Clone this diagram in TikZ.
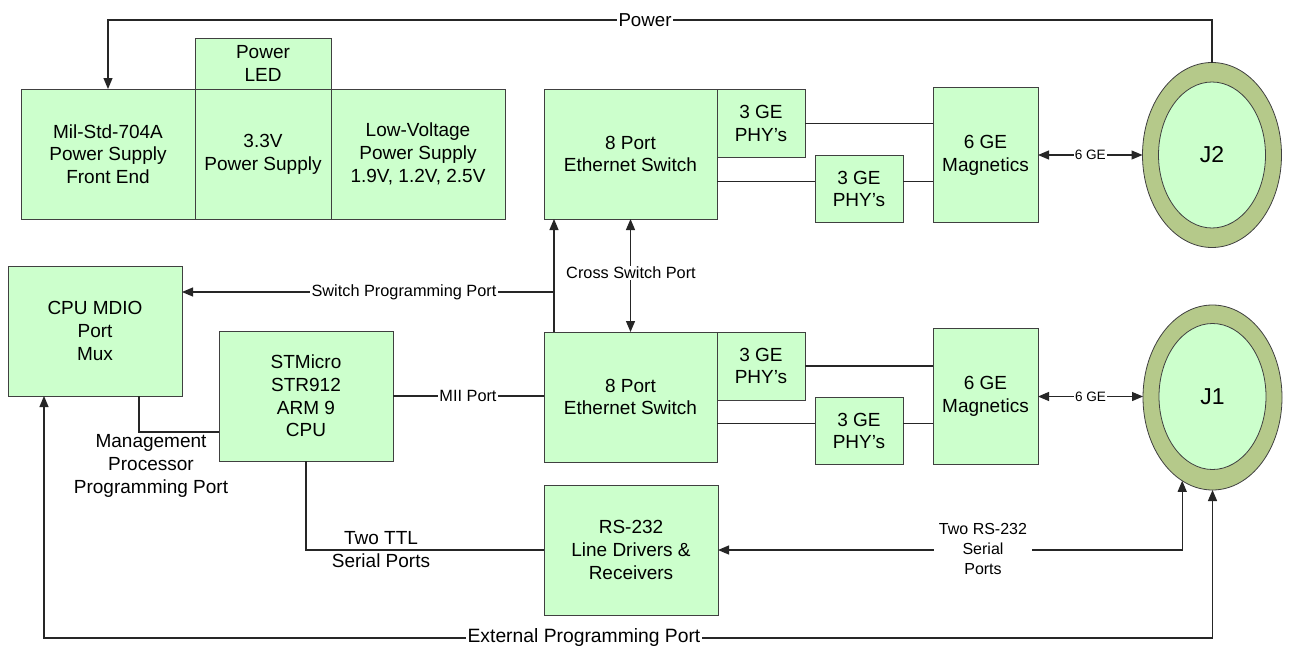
\documentclass[tikz,border=0pt]{standalone}
\usepackage{fontspec}
\setmainfont{Liberation Sans}
\usetikzlibrary{arrows.meta,shapes.geometric}
\definecolor{boxgreen}{HTML}{CCFFCC}
\definecolor{ringgreen}{HTML}{B5C98A}
\definecolor{edgegray}{HTML}{404040}
\begin{document}
\begin{tikzpicture}[x=1pt,y=-1pt,
  >={Triangle[length=11pt,width=9pt]},
  box/.style={draw=edgegray, fill=boxgreen, line width=0.8pt, inner sep=0pt, outer sep=0pt,
    align=center, font=\fontsize{19}{22.7}\selectfont},
  ring/.style={ellipse, draw=edgegray, fill=ringgreen, line width=0.8pt, inner sep=0pt, outer sep=0pt,
    minimum width=139pt, minimum height=185pt},
  core/.style={ellipse, draw=edgegray, fill=boxgreen, line width=0.8pt, inner sep=0pt, outer sep=0pt,
    minimum width=107pt, minimum height=146pt, font=\fontsize{23}{26}\selectfont},
  conn/.style={draw=black!85, line width=1.2pt},
  lbl/.style={fill=white, inner sep=1.5pt, align=center, font=\fontsize{16.3}{20}\selectfont},
  txt/.style={inner sep=0pt, align=center, font=\fontsize{19}{23}\selectfont}]
\useasboundingbox (0,0) rectangle (1290,645);
\fill[white] (0,0) rectangle (1290,645);

% power boxes
\node[box, minimum width=174pt, minimum height=130pt] (mil) at (108,154) {Mil-Std-704A\\Power Supply\\Front End};
\node[box, minimum width=136pt, minimum height=130pt] (v33) at (263,154) {3.3V\\Power Supply};
\node[box, minimum width=136pt, minimum height=51pt] (led) at (263,63.5) {Power\\LED};
\node[box, minimum width=174pt, minimum height=130pt] (lv) at (418,154) {Low-Voltage\\Power Supply\\1.9V, 1.2V, 2.5V};

% top switch group
\node[box, minimum width=173pt, minimum height=130pt] (sw1) at (630.5,154) {8 Port\\Ethernet Switch};
\node[box, minimum width=88pt, minimum height=68pt] (phy1a) at (761,123.5) {3 GE\\PHY’s};
\node[box, minimum width=88pt, minimum height=67pt] (phy1b) at (859,189) {3 GE\\PHY’s};
\node[box, minimum width=105pt, minimum height=135pt] (mag1) at (985.5,155) {6 GE\\Magnetics};
\node[ring] (J2o) at (1212,155) {};
\node[core] (J2i) at (1212,155) {J2};

% bottom switch group
\node[box, minimum width=173pt, minimum height=130pt] (sw2) at (630.5,397) {8 Port\\Ethernet Switch};
\node[box, minimum width=88pt, minimum height=68pt] (phy2a) at (761,366) {3 GE\\PHY’s};
\node[box, minimum width=88pt, minimum height=67pt] (phy2b) at (859,431) {3 GE\\PHY’s};
\node[box, minimum width=105pt, minimum height=136pt] (mag2) at (985.5,396.5) {6 GE\\Magnetics};
\node[ring] (J1o) at (1212.5,397.5) {};
\node[core] (J1i) at (1212.5,396.5) {J1};

% left / lower
\node[box, minimum width=174pt, minimum height=130pt] (mdio) at (95,331) {CPU MDIO\\Port\\Mux};
\node[box, minimum width=174pt, minimum height=130pt] (cpu) at (306,396) {STMicro\\STR912\\ARM 9\\CPU};
\node[box, minimum width=174pt, minimum height=130pt] (rs) at (631,550) {RS-232\\Line Drivers \&\\Receivers};

% PHY links
\draw[conn] (phy1a.east) -- (phy1a.east -| mag1.west);
\coordinate (t1) at (717,181.5);
\draw[conn] (t1) -- (t1 -| phy1b.west);
\draw[conn] (t1 -| phy1b.east) -- (t1 -| mag1.west);
\draw[conn] (phy2a.east) -- (phy2a.east -| mag2.west);
\coordinate (t2) at (717,423.5);
\draw[conn] (t2) -- (t2 -| phy2b.west);
\draw[conn] (t2 -| phy2b.east) -- (t2 -| mag2.west);

% 6 GE links
\draw[conn,<->] (mag1.east) -- (mag1.east -| J2o.west) node[midway,lbl,inner sep=1pt,font=\fontsize{13.6}{16}\selectfont] {6 GE};
\draw[conn,<->] (mag2.east) -- (mag2.east -| J1o.west) node[midway,lbl,inner sep=1pt,font=\fontsize{13.6}{16}\selectfont] {6 GE};

% Power
\coordinate (ptop) at (645,20);
\draw[conn,->] (J2o.north) |- (ptop) -| (mil.north);
\node[lbl, font=\fontsize{18.7}{20}\selectfont] (plbl) at (ptop) {Power};

% switch programming port
\coordinate (spp) at (554,292);
\draw[conn,->] ([xshift=10pt]sw2.north west) -- ([xshift=10pt]sw1.south west);
\draw[conn,->] (spp) -- (spp -| mdio.east);
\node[lbl] (spplbl) at (404,292) {Switch Programming Port};

% cross switch
\draw[conn,<->] (sw1.south) -- (sw2.north);
\node[lbl] (cslbl) at (631,273) {Cross Switch Port};

% MII
\draw[conn] (cpu.east) -- (cpu.east -| sw2.west);
\node[lbl] (miilbl) at (468,396) {MII Port};

% management port
\draw[conn] ([xshift=44pt]mdio.south) |- ([yshift=-36pt]cpu.west);
\node[txt] (mgmt) at (151,466) {Management\\Processor\\Programming Port};

% TTL serial
\draw[conn] (cpu.south) |- (rs.west);
\node[txt] (ttl1) at (381,538) {Two TTL};
\node[txt] (ttl2) at (381,561) {Serial Ports};

% RS-232 serial
\draw[conn,<->] (rs.east) -- (rs.east -| J1o.250) -- (J1o.250);
\node[lbl, inner xsep=5pt, font=\fontsize{16}{20}\selectfont] (rslbl) at (983,549) {Two RS-232\\Serial\\Ports};

% external programming port
\coordinate (ext) at (44,638);
\draw[conn,<->] ([xshift=-51pt]mdio.south) -- (ext) -| (J1o.south);
\node[lbl, font=\fontsize{19.3}{20}\selectfont] (extlbl) at (584,638) {External Programming Port};
\end{tikzpicture}
\end{document}
